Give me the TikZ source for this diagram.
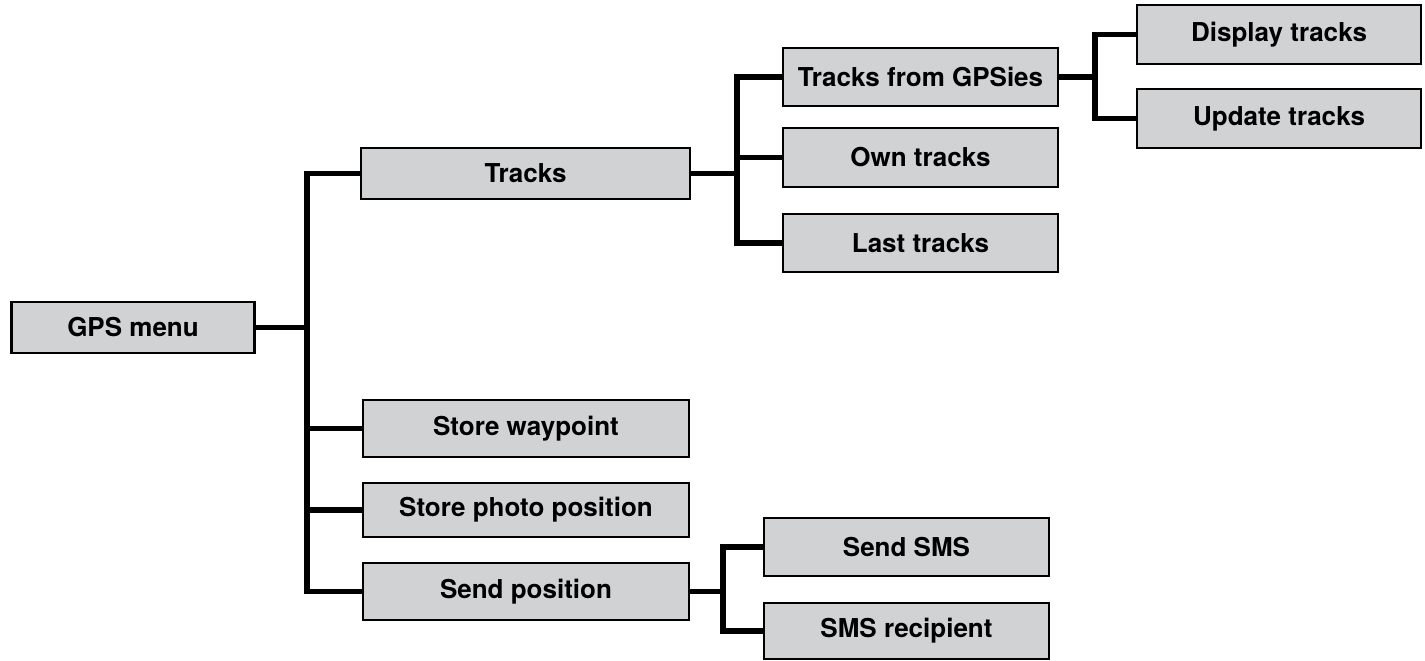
\documentclass[tikz,border=0pt]{standalone}
\usepackage{fontspec}
\setmainfont{TeX Gyre Heros}
\definecolor{boxgray}{RGB}{209,210,212}
\begin{document}
\begin{tikzpicture}[x=0.5pt,y=-0.5pt,
  menubox/.style={draw=black,line width=1.1pt,fill=boxgray,inner sep=0pt,
    font=\fontsize{13}{15}\selectfont\bfseries},
  conn/.style={draw=black,line width=2.6pt}]
\useasboundingbox (0,0) rectangle (1425,660);
% nodes
\node[menubox,minimum width=121.5pt,minimum height=25.5pt] (gps) at (133,327.5) {GPS menu};
\node[menubox,minimum width=164.5pt,minimum height=25.5pt] (tracks) at (525.5,173.5) {Tracks};
\node[menubox,minimum width=137.5pt,minimum height=29pt] (gpsies) at (920.5,77) {Tracks from GPSies};
\node[menubox,minimum width=137.5pt,minimum height=29.5pt] (own) at (920.5,157.5) {Own tracks};
\node[menubox,minimum width=137.5pt,minimum height=29pt] (last) at (920.5,243) {Last tracks};
\node[menubox,minimum width=142pt,minimum height=29.5pt] (display) at (1279,34.5) {Display tracks};
\node[menubox,minimum width=142pt,minimum height=29.5pt] (update) at (1279,118.5) {Update tracks};
\node[menubox,minimum width=163pt,minimum height=28.5pt] (waypoint) at (526,428.5) {Store waypoint};
\node[menubox,minimum width=163pt,minimum height=27pt] (photo) at (526,510) {Store photo position};
\node[menubox,minimum width=163pt,minimum height=28.5pt] (sendpos) at (526,591.5) {Send position};
\node[menubox,minimum width=142.5pt,minimum height=29pt] (sms) at (906.5,547) {Send SMS};
\node[menubox,minimum width=142.5pt,minimum height=28pt] (recip) at (906.5,631) {SMS recipient};
% trunk points
\coordinate (j1) at (307,327.5);
\coordinate (j2) at (737,173.5);
\coordinate (j3) at (1095,77);
\coordinate (j4) at (723,591.5);
% connectors
\draw[conn] (gps.east) -- (j1);
\draw[conn] (tracks.west) -| (j1);
\draw[conn] (waypoint.west) -| (j1);
\draw[conn] (photo.west) -| (j1);
\draw[conn] (sendpos.west) -| (j1);
\draw[conn] (tracks.east) -- (j2);
\draw[conn] (gpsies.west) -| (j2);
\draw[conn] (own.west) -| (j2);
\draw[conn] (last.west) -| (j2);
\draw[conn] (gpsies.east) -- (j3);
\draw[conn] (display.west) -| (j3);
\draw[conn] (update.west) -| (j3);
\draw[conn] (sendpos.east) -- (j4);
\draw[conn] (sms.west) -| (j4);
\draw[conn] (recip.west) -| (j4);
\end{tikzpicture}
\end{document}
